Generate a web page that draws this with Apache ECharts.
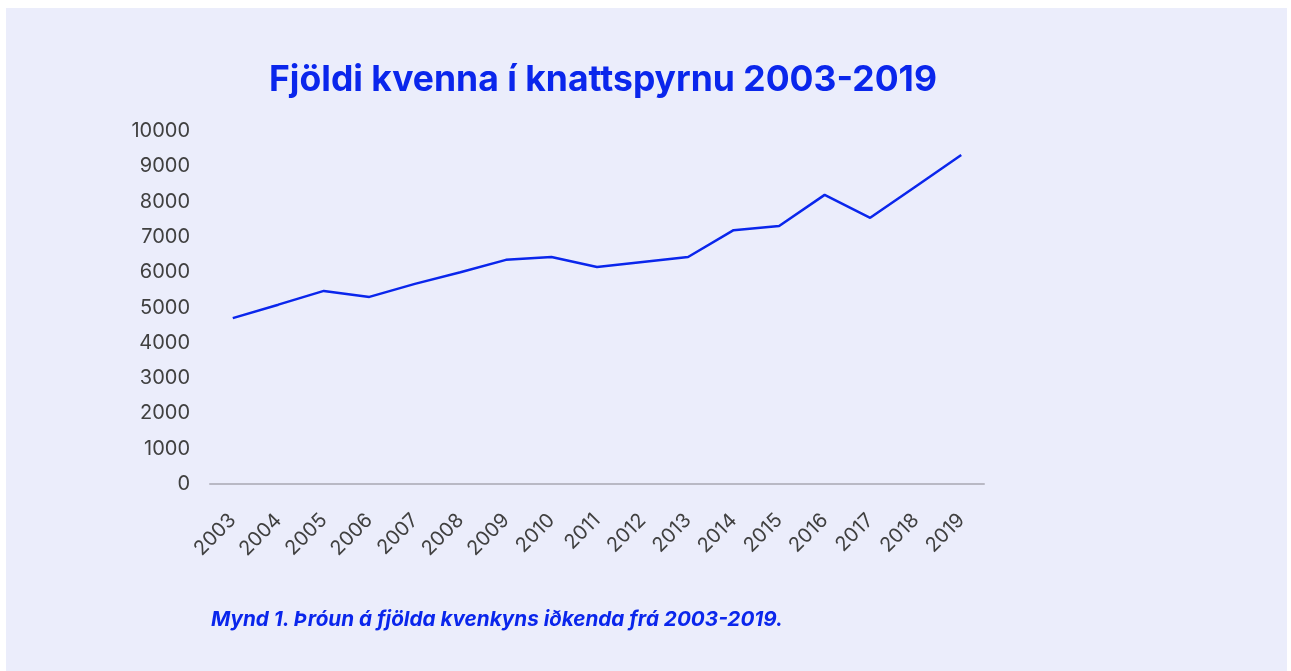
<!DOCTYPE html>
<html>
<head>
<meta charset="utf-8">
<title>Fjöldi kvenna í knattspyrnu</title>
<script src="https://cdn.jsdelivr.net/npm/echarts@6/dist/echarts.min.js"></script>
<style>
  html, body { margin: 0; padding: 0; background: #ffffff; }
  #panel { position: absolute; left: 6px; top: 8px; width: 1281px; height: 663px; background: #ebedfb; }
  #chart { position: absolute; left: 0; top: 0; width: 1291px; height: 671px; }
</style>
</head>
<body>
<div id="panel"></div>
<div id="chart"></div>
<script>
// ár og fjöldi kvenna
const years = ['2003', '2004', '2005', '2006', '2007', '2008', '2009', '2010', '2011',
  '2012', '2013', '2014', '2015', '2016', '2017', '2018', '2019']
const players = [4700, 5080, 5470, 5300, 5670, 6000, 6350, 6430, 6150,
  6290, 6430, 7190, 7310, 8190, 7540, 8430, 9320]

const blue = '#0a26ec'
const font = 'Inter, "Noto Sans", sans-serif'

const chart = echarts.init(document.getElementById('chart'))

chart.setOption({
  backgroundColor: 'transparent',
  textStyle: { fontFamily: font },
  title: [
    {
      text: 'Fjöldi kvenna í knattspyrnu 2003-2019',
      left: 598,
      top: 57,
      textAlign: 'center',
      textStyle: { color: blue, fontSize: 35.5, fontWeight: 'bold', fontFamily: font }
    },
    {
      text: '{b|Mynd 1.} {i|Þróun á fjölda kvenkyns iðkenda frá 2003-2019.}',
      left: 206,
      top: 604,
      textStyle: {
        rich: {
          b: { color: blue, fontSize: 20.7, fontWeight: 'bold', fontStyle: 'italic', fontFamily: font },
          i: { color: blue, fontSize: 20.7, fontStyle: 'italic', fontFamily: font }
        }
      }
    }
  ],
  grid: { left: 210, right: 307, top: 131, bottom: 187 },
  xAxis: {
    type: 'category',
    data: years,
    boundaryGap: true,
    axisLine: { lineStyle: { color: '#b9b9c4', width: 2 } },
    axisTick: { show: false },
    axisLabel: { color: '#404040', fontSize: 20, rotate: 45, margin: 33, interval: 0, fontFamily: font }
  },
  yAxis: {
    type: 'value',
    min: 0,
    max: 10000,
    interval: 1000,
    axisLine: { show: false },
    axisTick: { show: false },
    splitLine: { show: false },
    axisLabel: { color: '#404040', fontSize: 20, margin: 20, fontFamily: font, formatter: v => String(v) }
  },
  series: [
    {
      name: 'Fjöldi',
      type: 'line',
      data: players,
      symbol: 'none',
      lineStyle: { color: blue, width: 2.5 },
      animation: false
    }
  ]
})
</script>
</body>
</html>
